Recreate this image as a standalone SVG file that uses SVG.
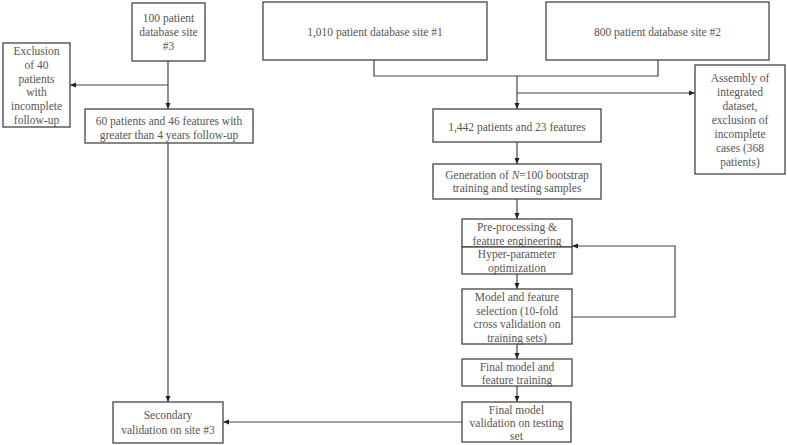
<svg xmlns="http://www.w3.org/2000/svg" width="787" height="445" viewBox="0 0 787 445">
<style>
.b{fill:#fff;stroke:#444;stroke-width:1.3}
.t{font-family:"Liberation Serif","Times New Roman",serif;font-size:11.5px;fill:#555;text-anchor:middle}
.c{fill:none;stroke:#444;stroke-width:1.2}
</style>
<defs>
<marker id="ah" markerUnits="userSpaceOnUse" markerWidth="6" markerHeight="6" viewBox="0 0 6 6" refX="6" refY="3" orient="auto">
<path d="M0,0.5 L6,3 L0,5.5 Z" fill="#222"/>
</marker>
</defs>
<rect width="787" height="445" fill="#fff"/>
<g id="connectors">
<line class="c" x1="168" y1="61" x2="168" y2="109" marker-end="url(#ah)"/>
<line class="c" x1="168" y1="85" x2="70" y2="85" marker-end="url(#ah)"/>
<line class="c" x1="168" y1="143" x2="168" y2="402" marker-end="url(#ah)"/>
<polyline class="c" points="374,60 374,76 658,76 658,60"/>
<line class="c" x1="517" y1="76" x2="517" y2="109" marker-end="url(#ah)"/>
<line class="c" x1="517" y1="93" x2="695" y2="93" marker-end="url(#ah)"/>
<line class="c" x1="517" y1="142" x2="517" y2="164" marker-end="url(#ah)"/>
<line class="c" x1="517" y1="199" x2="517" y2="219" marker-end="url(#ah)"/>
<line class="c" x1="517" y1="274" x2="517" y2="289" marker-end="url(#ah)"/>
<polyline class="c" points="572,317 675,317 675,246 572,246" marker-end="url(#ah)"/>
<line class="c" x1="517" y1="344" x2="517" y2="359" marker-end="url(#ah)"/>
<line class="c" x1="517" y1="386" x2="517" y2="402" marker-end="url(#ah)"/>
<line class="c" x1="462" y1="422" x2="223" y2="422" marker-end="url(#ah)"/>
</g>
<g id="site3">
<rect class="b" x="132" y="3" width="73" height="58"/>
<text class="t" x="168.5" y="22">100 patient</text>
<text class="t" x="168.5" y="36">database site</text>
<text class="t" x="168.5" y="50">#3</text>
</g>
<g id="exclusion40">
<rect class="b" x="3" y="43" width="67" height="84"/>
<text class="t" x="36.5" y="55">Exclusion</text>
<text class="t" x="36.5" y="68.8">of 40</text>
<text class="t" x="36.5" y="82.6">patients</text>
<text class="t" x="36.5" y="96.4">with</text>
<text class="t" x="36.5" y="110.2">incomplete</text>
<text class="t" x="36.5" y="124">follow-up</text>
</g>
<g id="site3data">
<rect class="b" x="85" y="109" width="168" height="34"/>
<text class="t" x="169" y="125">60 patients and 46 features with</text>
<text class="t" x="169" y="138.5">greater than 4 years follow-up</text>
</g>
<g id="site1">
<rect class="b" x="263" y="2" width="224" height="58"/>
<text class="t" x="375" y="36">1,010 patient database site #1</text>
</g>
<g id="site2">
<rect class="b" x="546" y="2" width="223" height="58"/>
<text class="t" x="657.5" y="36">800 patient database site #2</text>
</g>
<g id="assembly">
<rect class="b" x="695" y="65" width="90" height="109"/>
<text class="t" x="740" y="82">Assembly of</text>
<text class="t" x="740" y="96">integrated</text>
<text class="t" x="740" y="110">dataset,</text>
<text class="t" x="740" y="124">exclusion of</text>
<text class="t" x="740" y="138">incomplete</text>
<text class="t" x="740" y="152">cases (368</text>
<text class="t" x="740" y="166">patients)</text>
</g>
<g id="integrated">
<rect class="b" x="433" y="109" width="168" height="33"/>
<text class="t" x="517" y="131">1,442 patients and 23 features</text>
</g>
<g id="bootstrap">
<rect class="b" x="433" y="164" width="168" height="35"/>
<text class="t" x="517" y="179">Generation of <tspan font-style="italic">N</tspan>=100 bootstrap</text>
<text class="t" x="517" y="191.5">training  and testing samples</text>
</g>
<g id="preprocessing">
<rect class="b" x="462" y="219" width="110" height="28"/>
<text class="t" x="517" y="231">Pre-processing &amp;</text>
<text class="t" x="517" y="245">feature engineering</text>
</g>
<g id="hyperparam">
<rect class="b" x="462" y="247" width="110" height="27"/>
<text class="t" x="517" y="258">Hyper-parameter</text>
<text class="t" x="517" y="272">optimization</text>
</g>
<g id="selection">
<rect class="b" x="462" y="289" width="110" height="55"/>
<text class="t" x="517" y="301">Model and feature</text>
<text class="t" x="517" y="314.5">selection (10-fold</text>
<text class="t" x="517" y="328">cross validation  on</text>
<text class="t" x="517" y="341.5">training  sets)</text>
</g>
<g id="finaltraining">
<rect class="b" x="462" y="359" width="110" height="27"/>
<text class="t" x="517" y="371">Final model and</text>
<text class="t" x="517" y="384">feature training</text>
</g>
<g id="finalvalidation">
<rect class="b" x="462" y="402" width="109" height="40"/>
<text class="t" x="516.5" y="414">Final model</text>
<text class="t" x="516.5" y="427">validation  on testing</text>
<text class="t" x="516.5" y="440">set</text>
</g>
<g id="secondary">
<rect class="b" x="113" y="402" width="110" height="41"/>
<text class="t" x="168" y="419">Secondary</text>
<text class="t" x="168" y="434">validation  on site #3</text>
</g>
</svg>
